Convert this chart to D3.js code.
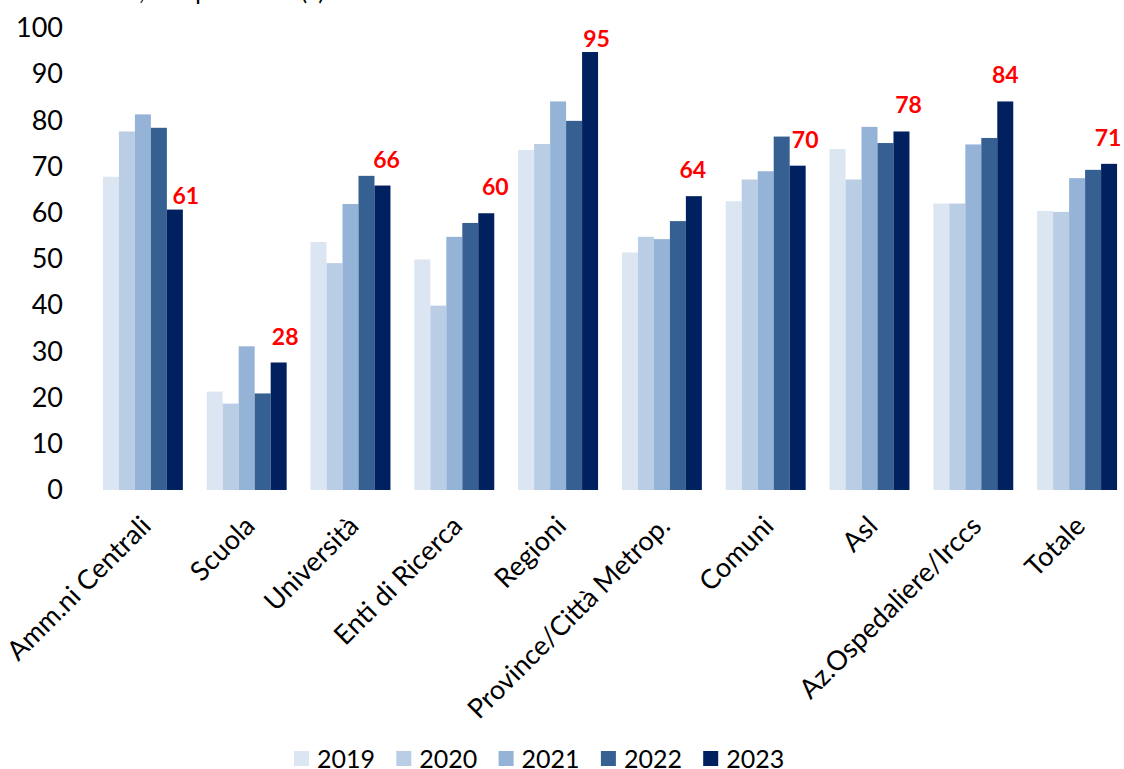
<!DOCTYPE html>
<html>

<head>
  <title>Chart</title>
  <style type="text/css">
    body {
      margin: 0;
      background: #fff;
    }

    svg {
      display: block;
      font-family: Lato, "Open Sans", sans-serif;
    }
  </style>
</head>

<body>
  <div id="chart"></div>
  <script type="text/javascript" src="https://cdn.jsdelivr.net/npm/d3@7/dist/d3.min.js"></script>
  <script type="text/javascript">
    // data
    var categories = ["Amm.ni Centrali", "Scuola", "Università", "Enti di Ricerca", "Regioni",
      "Province/Città Metrop.", "Comuni", "Asl", "Az.Ospedaliere/Irccs", "Totale"];
    var years = ["2019", "2020", "2021", "2022", "2023"];
    var v2019 = [67.8, 21.3, 53.7, 49.9, 73.6, 51.4, 62.5, 73.8, 62.0, 60.4];
    var v2020 = [77.6, 18.7, 49.1, 39.9, 74.9, 54.8, 67.2, 67.2, 62.0, 60.2];
    var v2021 = [81.3, 31.1, 61.9, 54.8, 84.1, 54.3, 69.0, 78.6, 74.8, 67.5];
    var v2022 = [78.4, 20.9, 68.0, 57.8, 79.9, 58.2, 76.5, 75.1, 76.2, 69.3];
    var v2023 = [60.7, 27.6, 65.9, 59.9, 94.8, 63.6, 70.2, 77.6, 84.1, 70.6];
    var yTicks = [0, 10, 20, 30, 40, 50, 60, 70, 80, 90, 100];

    var series = [v2019, v2020, v2021, v2022, v2023];
    var colors = ["#dce6f2", "#b9cde5", "#95b3d7", "#366092", "#002060"];

    var w = 1124, h = 769;

    var svg = d3.select("#chart").append("svg")
      .attr("width", w)
      .attr("height", h);

    var x = d3.scaleBand()
      .domain(categories)
      .range([91, 1129])
      .paddingInner(0.23)
      .paddingOuter(0.115);

    var x1 = d3.scaleBand()
      .domain(years)
      .range([0, x.bandwidth()]);

    var y = d3.scaleLinear()
      .domain([0, 100])
      .range([490, 28]);

    // title, mostly above the top edge as in the reference
    svg.append("text")
      .attr("x", 76)
      .attr("y", 0)
      .style("font-size", "24px")
      .attr("fill", "#000")
      .text("Indice, composizione (a)");

    // y axis, labels only
    var yAxis = d3.axisLeft(y).tickValues(yTicks).tickSize(0).tickPadding(0);
    var gy = svg.append("g")
      .attr("transform", "translate(63,0)")
      .call(yAxis);
    gy.select(".domain").remove();
    gy.selectAll("text")
      .attr("font-family", "Lato, sans-serif")
      .style("font-size", "27px")
      .attr("fill", "#000");

    // bars
    var groups = svg.selectAll("g.group")
      .data(categories)
      .enter().append("g")
      .attr("class", "group")
      .attr("transform", function (d) { return "translate(" + x(d) + ",0)"; });

    groups.selectAll("rect")
      .data(function (d, i) {
        return years.map(function (yr, j) { return { year: yr, value: series[j][i], j: j }; });
      })
      .enter().append("rect")
      .attr("x", function (d) { return x1(d.year); })
      .attr("y", function (d) { return y(d.value); })
      .attr("width", x1.bandwidth())
      .attr("height", function (d) { return y(0) - y(d.value); })
      .attr("fill", function (d) { return colors[d.j]; });

    // red labels on 2023 bars (dx, gap tuned per group)
    var nudge = [[11, 6], [6.5, 17], [4, 18], [9, 18], [6.5, 5], [-1, 18], [7.5, 18], [7, 18], [0, 18], [-1, 18]];
    svg.selectAll("text.lab")
      .data(categories)
      .enter().append("text")
      .attr("class", "lab")
      .attr("x", function (d, i) { return x(d) + x1("2023") + x1.bandwidth() / 2 + nudge[i][0]; })
      .attr("y", function (d, i) { return y(v2023[i]) - nudge[i][1]; })
      .attr("text-anchor", "middle")
      .style("font-size", "23px")
      .style("font-weight", "bold")
      .attr("fill", "#ff0000")
      .text(function (d, i) { return Math.round(v2023[i]); });

    // category labels
    svg.selectAll("text.cat")
      .data(categories)
      .enter().append("text")
      .attr("class", "cat")
      .attr("transform", function (d) { return "translate(" + (x(d) + x.bandwidth() / 2 - 4) + ",514) rotate(-45)"; })
      .attr("text-anchor", "end")
      .attr("dy", "0.72em")
      .style("font-size", "27px")
      .attr("fill", "#000")
      .text(function (d) { return d; });

    // legend
    var leg = svg.selectAll("g.leg")
      .data(years)
      .enter().append("g")
      .attr("class", "leg")
      .attr("transform", function (d, i) { return "translate(" + (294 + i * 102.3) + ",751)"; });

    leg.append("rect")
      .attr("width", 15)
      .attr("height", 15)
      .attr("fill", function (d, i) { return colors[i]; });

    leg.append("text")
      .attr("x", 23)
      .attr("y", 17)
      .style("font-size", "25px")
      .attr("fill", "#000")
      .text(function (d) { return d; });
  </script>
</body>

</html>
